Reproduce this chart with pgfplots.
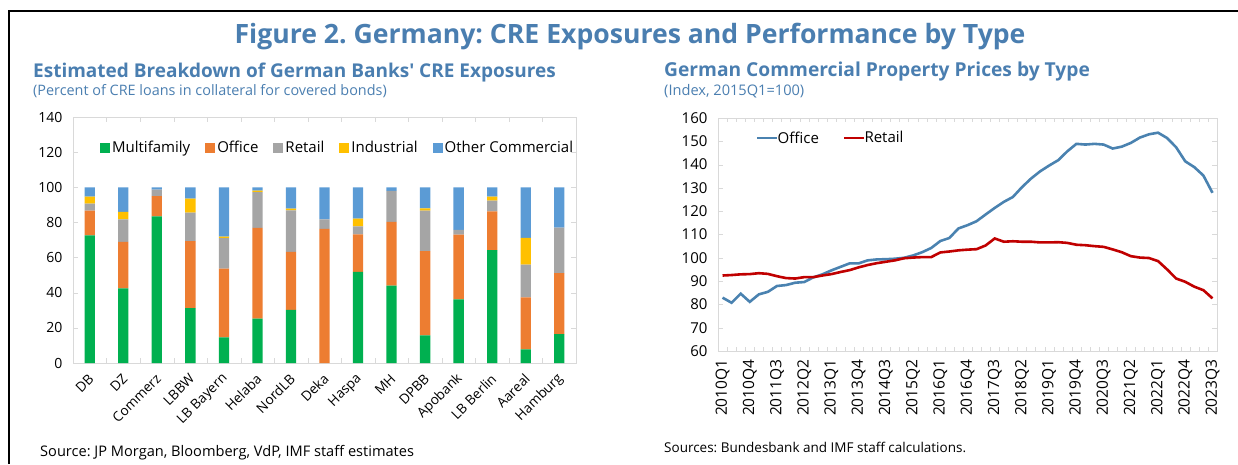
\documentclass[border=0pt]{standalone}
\usepackage{pgfplots}
\pgfplotsset{compat=1.18}
\usepackage{fontspec}
\setmainfont{Open Sans}
\frenchspacing
\definecolor{titleblue}{RGB}{74,126,176}
\definecolor{cgreen}{RGB}{0,176,80}
\definecolor{corange}{RGB}{237,125,49}
\definecolor{cgray}{RGB}{165,165,165}
\definecolor{cyellow}{RGB}{255,192,0}
\definecolor{cblue}{RGB}{91,155,213}
\definecolor{officeblue}{RGB}{74,130,176}
\definecolor{retailred}{RGB}{192,0,0}
\definecolor{axgray}{RGB}{217,217,217}
\newcommand{\fs}[1]{\fontsize{#1}{#1}\selectfont}
\begin{document}
\begin{tikzpicture}
\path[use as bounding box] (0pt,0pt) rectangle (1238pt,464pt);
% frame
\draw[line width=2pt] (9pt,0pt) -- (9pt,453pt) -- (1238pt,453pt);
% titles
\node[anchor=base, text=titleblue, font=\fs{26.6}\bfseries] at (630pt,420pt) {Figure 2. Germany: CRE Exposures and Performance by Type};
\node[anchor=base west, inner sep=0pt, text=titleblue, font=\fs{19}\bfseries] at (33pt,386pt) {Estimated Breakdown of German Banks\textquotesingle\ CRE Exposures};
\node[anchor=base west, inner sep=0pt, text=titleblue, font=\fs{14.4}] at (33pt,368pt) {(Percent of CRE loans in collateral for covered bonds)};
\node[anchor=base west, inner sep=0pt, text=titleblue, font=\fs{19.2}\bfseries] at (664pt,387pt) {German Commercial Property Prices by Type};
\node[anchor=base west, inner sep=0pt, text=titleblue, font=\fs{14.6}] at (664pt,368pt) {(Index, 2015Q1=100)};
\node[anchor=base west, inner sep=0pt, font=\fs{14.6}] at (40pt,8pt) {Source: JP Morgan, Bloomberg, VdP, IMF staff estimates};
\node[anchor=base west, inner sep=0pt, font=\fs{13.5}] at (664pt,12pt) {Sources: Bundesbank and IMF staff calculations.};

% left chart
\begin{axis}[
  at={(73pt,101pt)}, anchor=south west,
  scale only axis, width=503pt, height=246pt,
  ybar stacked, bar width=10.3pt,
  xmin=-0.5, xmax=14.5, ymin=0, ymax=140,
  ytick={0,20,...,140},
  xtick={0,...,14},
  xticklabels={DB,DZ,Commerz,LBBW,LB Bayern,Helaba,NordLB,Deka,Haspa,MH,DPBB,Apobank,LB Berlin,Aareal,Hamburg},
  minor xtick={-0.5,0.5,...,14.5},
  major x tick style={draw=none},
  minor x tick style={axgray},
  minor tick length=5pt,
  major tick length=5pt,
  ytick style={axgray},
  axis line style={axgray},
  /pgf/number format/assume math mode=true,
  ticklabel style={font=\fs{14}},
  xticklabel shift=11pt,
  xticklabel style={xshift=4pt, rotate=45, anchor=east, font=\fs{13.6}},
  yticklabel style={xshift=-7pt},
  legend style={at={(0.526,0.874)}, anchor=center, draw=none, fill=none, font=\fs{15},
     legend columns=5, /tikz/every even column/.append style={column sep=13pt}},
  legend image code/.code={\fill[#1] (0pt,-5pt) rectangle (10pt,5pt);},
]
\addplot[fill=cgreen, draw=none] coordinates {(0,72.7)(1,42.5)(2,83.5)(3,31.3)(4,14.6)(5,25.2)(6,30.2)(7,0)(8,51.8)(9,44)(10,15.7)(11,36.2)(12,64.3)(13,7.8)(14,16.5)};
\addplot[fill=corange, draw=none] coordinates {(0,14)(1,26.4)(2,11.4)(3,38.1)(4,39.1)(5,51.7)(6,33)(7,76.3)(8,21.4)(9,36.3)(10,47.9)(11,36.9)(12,22)(13,29.6)(14,34.7)};
\addplot[fill=cgray, draw=none] coordinates {(0,4)(1,12.9)(2,3.8)(3,16.2)(4,17.3)(5,20.3)(6,23.7)(7,5.5)(8,4.6)(9,17.6)(10,23.1)(11,2.6)(12,6.1)(13,18.6)(14,25.8)};
\addplot[fill=cyellow, draw=none] coordinates {(0,4)(1,4.2)(2,0)(3,7.9)(4,0.9)(5,0.9)(6,1)(7,0)(8,4.4)(9,0)(10,1.3)(11,0)(12,2.3)(13,15.2)(14,0)};
\addplot[fill=cblue, draw=none] coordinates {(0,5.3)(1,14)(2,1.3)(3,6.5)(4,28.1)(5,1.9)(6,12.1)(7,18.2)(8,17.8)(9,2.1)(10,12)(11,24.3)(12,5.3)(13,28.8)(14,23)};
\legend{Multifamily,Office,Retail,Industrial,Other Commercial}
\end{axis}

% right chart
\begin{axis}[
  at={(718pt,113pt)}, anchor=south west,
  scale only axis, width=499pt, height=233pt,
  xmin=-0.5, xmax=54.5, ymin=60, ymax=160,
  ytick={60,70,...,160},
  xtick={0,3,...,54},
  xticklabels={2010Q1,2010Q4,2011Q3,2012Q2,2013Q1,2013Q4,2014Q3,2015Q2,2016Q1,2016Q4,2017Q3,2018Q2,2019Q1,2019Q4,2020Q3,2021Q2,2022Q1,2022Q4,2023Q3},
  minor xtick={-0.5,0.5,...,54.5},
  major x tick style={draw=none},
  minor x tick style={axgray},
  minor tick length=4pt,
  major tick length=5pt,
  ytick style={axgray},
  axis line style={axgray},
  /pgf/number format/assume math mode=true,
  ticklabel style={font=\fs{15.5}},
  yticklabel style={font=\fs{15}, xshift=-7pt},
  xticklabel shift=5pt,
  xticklabel style={rotate=90, anchor=east},
  legend style={at={(0.226,0.914)}, anchor=center, draw=none, fill=none, font=\fs{15},
     legend columns=2, /tikz/every even column/.append style={column sep=22pt},
     /tikz/every odd column/.append style={column sep=-3pt}},
  legend image code/.code={\draw[#1] (0pt,0pt) -- (20pt,0pt);},
]
\addplot[officeblue, line width=2.6pt] coordinates {(0,82.9)(1,80.7)(2,84.6)(3,81.1)(4,84.3)(5,85.4)(6,87.9)(7,88.3)(8,89.3)(9,89.6)(10,91.6)(11,92.9)(12,94.6)(13,96.1)(14,97.6)(15,97.6)(16,98.9)(17,99.3)(18,99.4)(19,99.6)(20,100)(21,101)(22,102.4)(23,104.2)(24,107.2)(25,108.5)(26,112.6)(27,114)(28,115.7)(29,118.6)(30,121.4)(31,124)(32,126.1)(33,130.3)(34,134)(35,137.1)(36,139.6)(37,141.9)(38,145.7)(39,148.9)(40,148.6)(41,148.9)(42,148.6)(43,146.9)(44,147.7)(45,149.3)(46,151.6)(47,153)(48,153.7)(49,151.4)(50,147.4)(51,141.4)(52,138.9)(53,135.3)(54,127.9)};
\addplot[retailred, line width=2.6pt] coordinates {(0,92.4)(1,92.6)(2,92.9)(3,93)(4,93.4)(5,93.1)(6,92.1)(7,91.3)(8,91.1)(9,91.7)(10,91.7)(11,92.4)(12,93)(13,93.9)(14,94.7)(15,95.9)(16,96.9)(17,97.7)(18,98.3)(19,98.9)(20,99.8)(21,100.1)(22,100.3)(23,100.3)(24,102.3)(25,102.7)(26,103.2)(27,103.5)(28,103.7)(29,105.3)(30,108.3)(31,106.9)(32,107.1)(33,106.9)(34,106.9)(35,106.6)(36,106.6)(37,106.7)(38,106.4)(39,105.6)(40,105.4)(41,105)(42,104.7)(43,103.6)(44,102.4)(45,100.7)(46,100.1)(47,99.9)(48,98.6)(49,95)(50,91.1)(51,89.7)(52,87.6)(53,86.1)(54,82.6)};
\legend{Office,Retail}
\end{axis}
\end{tikzpicture}
\end{document}
